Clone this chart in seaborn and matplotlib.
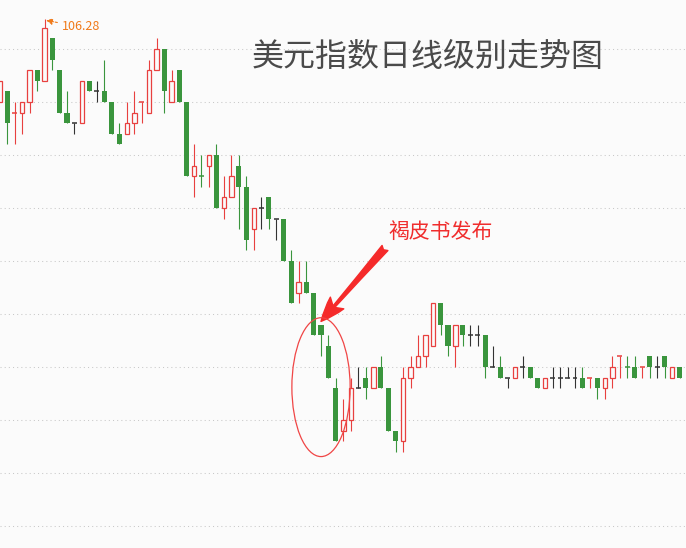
import numpy as np
import matplotlib
matplotlib.use("Agg")
import matplotlib.pyplot as plt
import seaborn as sns
from matplotlib.patches import Ellipse

# daily candles of the dollar index (open, high, low, close)
opens = [105.5, 105.6, 105.4, 105.4, 105.5, 105.8, 105.7, 106.1, 105.8, 105.4,
         105.3, 105.3, 105.7, 105.6, 105.6, 105.5, 105.2, 105.2, 105.3, 105.5,
         105.4, 105.8, 106.0, 105.5, 105.8, 105.5, 104.8, 104.8, 104.9, 105.0,
         104.5, 104.6, 104.9, 104.7, 104.3, 104.5, 104.6, 104.4, 104.4, 104.0,
         103.7, 103.8, 103.7, 103.4, 103.2, 102.8, 102.4, 102.5, 102.8, 102.9,
         102.8, 103.0, 102.8, 102.4, 102.3, 102.9, 103.0, 103.1, 103.2, 103.6,
         103.4, 103.2, 103.4, 103.3, 103.3, 103.3, 103.0, 103.0, 102.9, 102.9,
         103.0, 103.0, 102.9, 102.8, 102.9, 102.9, 102.9, 102.9, 102.9, 102.9,
         102.9, 102.8, 102.9, 103.1, 103.0, 103.0, 103.0, 103.1, 103.0, 103.1,
         102.9, 103.0]
highs = [105.7, 105.6, 105.5, 105.5, 105.8, 105.8, 106.28, 106.1, 105.8, 105.6,
         105.3, 105.7, 105.7, 105.7, 105.9, 105.5, 105.3, 105.5, 105.6, 105.5,
         105.9, 106.1, 106.0, 105.8, 105.8, 105.5, 105.1, 105.0, 105.0, 105.1,
         104.8, 105.0, 105.0, 104.8, 104.5, 104.6, 104.6, 104.4, 104.4, 104.1,
         104.0, 104.0, 103.7, 103.4, 103.3, 102.9, 102.7, 102.9, 103.0, 103.0,
         103.0, 103.1, 102.8, 102.4, 103.0, 103.1, 103.3, 103.3, 103.6, 103.6,
         103.4, 103.4, 103.4, 103.4, 103.4, 103.3, 103.2, 103.1, 102.9, 103.0,
         103.1, 103.0, 102.9, 102.9, 103.0, 103.0, 103.0, 103.0, 103.0, 102.9,
         102.9, 102.9, 103.1, 103.1, 103.1, 103.1, 103.0, 103.1, 103.1, 103.1,
         103.0, 103.0]
lows = [105.5, 105.1, 105.1, 105.2, 105.4, 105.6, 105.7, 105.8, 105.4, 105.3,
        105.2, 105.3, 105.6, 105.5, 105.5, 105.2, 105.1, 105.2, 105.2, 105.3,
        105.4, 105.8, 105.4, 105.5, 105.5, 104.8, 104.6, 104.7, 104.7, 104.5,
        104.4, 104.6, 104.3, 104.1, 104.1, 104.3, 104.3, 104.2, 104.0, 103.6,
        103.6, 103.7, 103.3, 103.1, 102.9, 102.3, 102.3, 102.4, 102.8, 102.7,
        102.8, 102.8, 102.4, 102.2, 102.2, 102.8, 103.0, 103.0, 103.2, 103.3,
        103.1, 103.0, 103.2, 103.2, 103.2, 102.9, 103.0, 102.9, 102.8, 102.9,
        102.9, 102.9, 102.8, 102.8, 102.8, 102.8, 102.9, 102.8, 102.8, 102.8,
        102.7, 102.7, 102.8, 102.9, 102.9, 102.9, 102.9, 102.9, 102.9, 102.9,
        102.9, 102.9]
closes = [105.7, 105.3, 105.4, 105.5, 105.8, 105.7, 106.2, 105.9, 105.4, 105.3,
          105.3, 105.7, 105.6, 105.6, 105.5, 105.2, 105.1, 105.3, 105.4, 105.5,
          105.8, 106.0, 105.6, 105.7, 105.5, 104.8, 104.9, 104.8, 105.0, 104.5,
          104.6, 104.8, 104.7, 104.2, 104.5, 104.5, 104.4, 104.4, 104.0, 103.6,
          103.8, 103.7, 103.3, 103.3, 102.9, 102.3, 102.5, 102.8, 102.8, 102.8,
          103.0, 102.8, 102.4, 102.3, 102.9, 103.0, 103.1, 103.3, 103.6, 103.4,
          103.2, 103.4, 103.3, 103.3, 103.3, 103.0, 103.0, 102.9, 102.9, 103.0,
          103.0, 102.9, 102.8, 102.9, 102.9, 102.9, 102.9, 102.9, 102.8, 102.9,
          102.8, 102.9, 103.0, 103.1, 103.0, 102.9, 103.0, 103.0, 103.0, 103.0,
          103.0, 102.9]

grid_levels = [106.0, 105.5, 105.0, 104.5, 104.0, 103.5, 103.0, 102.5, 102.0, 101.5]
title = "美元指数日线级别走势图"
event_label = "褐皮书发布"
event_idx = 43      # candle the arrow points at
high_idx = 6        # candle with the 106.28 high

RED = "#e8403f"
GREEN = "#3a953d"
BLACK = "#333333"
BG = "#fbfbfb"

sns.set_style("white")
plt.rcParams["font.family"] = ["Noto Sans CJK SC", "DejaVu Sans"]

fig = plt.figure(figsize=(6.86, 5.48), dpi=100, facecolor=BG)
ax = fig.add_axes([0, 0, 1, 1])
ax.set_facecolor(BG)

o = np.array(opens)
h = np.array(highs)
l = np.array(lows)
c = np.array(closes)
x = np.arange(len(o))
prev = np.r_[c[0], c[:-1]]

for i in x:
    top, bot = max(o[i], c[i]), min(o[i], c[i])
    if np.isclose(o[i], c[i]):
        if np.isclose(c[i], prev[i]):
            col = BLACK
        elif c[i] > prev[i]:
            col = RED
        else:
            col = GREEN
        ax.vlines(i, l[i], h[i], color=col, lw=0.8)
        ax.hlines(c[i], i - 0.33, i + 0.33, color=col, lw=1.1)
    elif c[i] > o[i]:
        ax.vlines(i, top, h[i], color=RED, lw=0.8)
        ax.vlines(i, l[i], bot, color=RED, lw=0.8)
        ax.bar(i, top - bot, bottom=bot, width=0.6, facecolor=BG,
               edgecolor=RED, linewidth=0.9, zorder=3)
    else:
        ax.vlines(i, l[i], h[i], color=GREEN, lw=0.8)
        ax.bar(i, top - bot, bottom=bot, width=0.68, color=GREEN,
               linewidth=0, zorder=3)

ax.set_xlim(0.027, 91.86)
ax.set_ylim(101.2925, 106.4623)
ax.set_yticks(grid_levels)
ax.yaxis.grid(True, color="#c8c8c8", linestyle=(0, (1, 3)), linewidth=0.75)
ax.xaxis.grid(False)
ax.set_axisbelow(True)
ax.tick_params(left=False, bottom=False, labelleft=False, labelbottom=False)
for s in ax.spines.values():
    s.set_visible(False)

fig.text(428 / 686, 1 - 57 / 548, title, fontsize=23, color="#4a4a4a",
         ha="center", va="center")

# event label and the tapered arrow below it
fig.text(388 / 686, 1 - 232 / 548, event_label, fontsize=15, color="#f02d2d",
         ha="left", va="center")
ax.annotate("", xy=(event_idx, h[event_idx] + 0.03),
            xytext=(385, 548 - 248), textcoords="figure pixels",
            arrowprops=dict(arrowstyle="fancy,head_length=1.1,head_width=0.8,tail_width=0.35",
                            color="#f52a2a", mutation_scale=16,
                            shrinkA=0, shrinkB=0))

ax.add_patch(Ellipse((event_idx, 102.81), width=7.8, height=1.31,
                     fill=False, edgecolor="#f04545", linewidth=0.9, zorder=4))

ax.annotate(f"{highs[high_idx]:.2f}", xy=(high_idx + 0.2, highs[high_idx] - 0.01),
            xytext=(62, 548 - 27), textcoords="figure pixels",
            fontsize=9, color="#f07a1a", ha="left", va="center",
            arrowprops=dict(arrowstyle="-|>,head_length=0.4,head_width=0.2",
                            color="#f07a1a", linestyle=(0, (2, 1.5)),
                            linewidth=0.8, shrinkA=1, shrinkB=0))

fig.savefig("out.png", dpi=100, facecolor=BG)
